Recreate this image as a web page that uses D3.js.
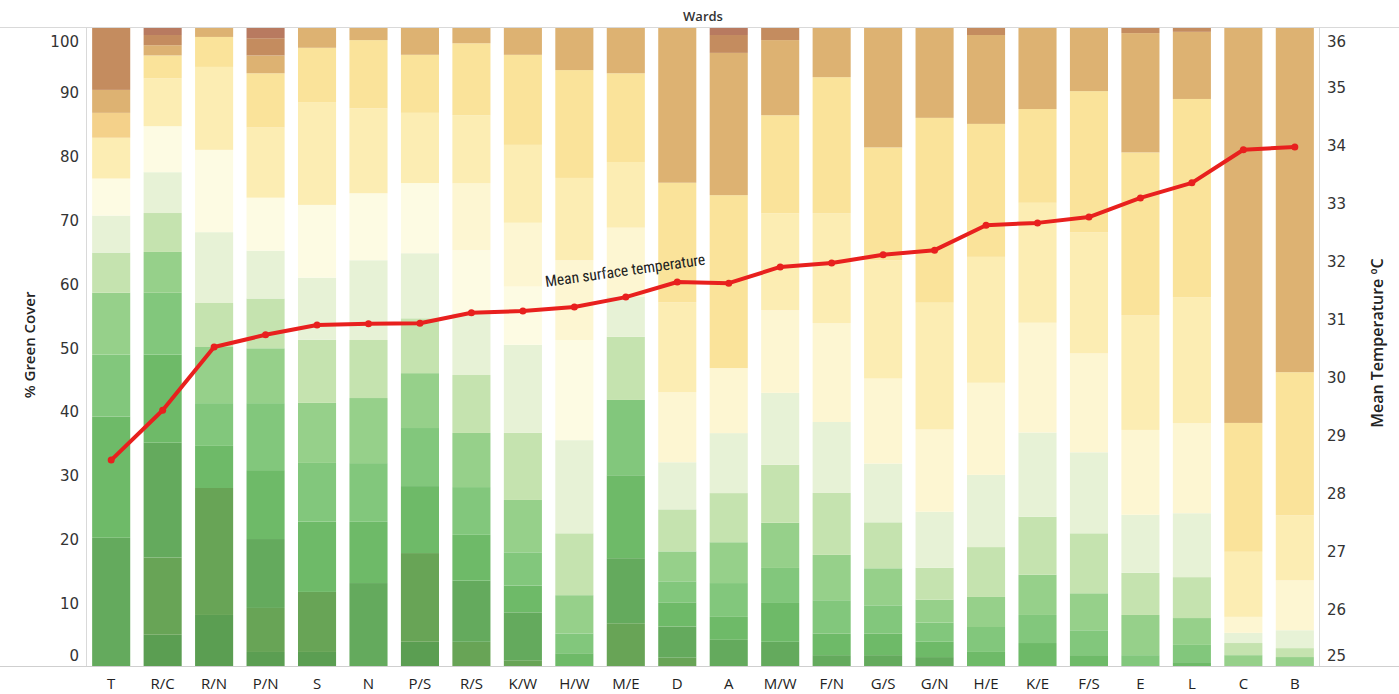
<!DOCTYPE html>
<html>
<head>
<meta charset="utf-8">
<script src="https://cdn.jsdelivr.net/npm/d3@7"></script>
<style>
  html, body { margin: 0; padding: 0; background: #fff; }
  svg { display: block; }
</style>
</head>
<body>
<svg id="chart" width="1399" height="694"></svg>
<script>
// ---------------- DATA ----------------
const wards = ["T","R/C","R/N","P/N","S","N","P/S","R/S","K/W","H/W","M/E","D","A","M/W","F/N","G/S","G/N","H/E","K/E","F/S","E","L","C","B"];

// mean surface temperature (°C) per ward
const meanTemp = [28.55, 29.41, 30.50, 30.71, 30.88, 30.90, 30.91, 31.09, 31.12, 31.19, 31.36, 31.62, 31.60, 31.88, 31.95, 32.09, 32.17, 32.60, 32.64, 32.74, 33.07, 33.33, 33.90, 33.95];

// share (%) of each ward's area in each cover / temperature class, coolest (bottom) to hottest (top)
const class00 = [0, 4.9, 8.0, 2.2, 2.2, 0, 3.8, 0, 0, 0, 0, 0, 0, 0, 0, 0, 0, 0, 0, 0, 0, 0, 0, 0];
const class01 = [0, 12.1, 19.9, 6.9, 9.4, 0, 13.9, 3.8, 0.9, 0, 6.7, 1.3, 0, 0, 0, 0, 0, 0, 0, 0, 0, 0, 0, 0];
const class02 = [20.1, 18.0, 0, 10.8, 0, 13.0, 0, 9.6, 7.5, 0, 10.2, 4.9, 4.1, 3.8, 1.7, 1.7, 1.4, 0, 0, 0, 0, 0, 0, 0];
const class03 = [19.0, 13.8, 6.6, 10.8, 11.0, 9.6, 10.5, 7.2, 4.2, 2.0, 13.0, 3.8, 3.6, 6.1, 3.4, 3.4, 2.4, 2.2, 3.6, 1.7, 0, 0.6, 0, 0];
const class04 = [9.7, 9.7, 6.7, 10.5, 9.2, 9.2, 9.1, 7.5, 5.2, 3.1, 11.8, 3.3, 5.3, 5.5, 5.2, 4.4, 3.0, 3.9, 4.4, 3.9, 1.7, 2.7, 0, 0];
const class05 = [9.7, 6.4, 8.8, 8.6, 9.4, 10.2, 8.6, 8.5, 8.2, 6.0, 0, 4.7, 6.4, 7.1, 7.1, 5.8, 3.6, 4.7, 6.3, 5.8, 6.3, 4.2, 1.7, 1.4];
const class06 = [6.3, 6.1, 6.9, 7.8, 9.9, 9.1, 8.6, 9.1, 10.5, 9.7, 9.9, 6.6, 7.7, 9.1, 9.7, 7.2, 5.0, 7.8, 9.1, 9.4, 6.6, 6.4, 1.9, 1.4];
const class07 = [5.8, 6.4, 11.1, 7.5, 9.7, 12.5, 10.2, 9.7, 13.8, 14.6, 6.3, 7.4, 9.4, 11.3, 11.1, 9.2, 8.8, 11.3, 13.2, 12.7, 9.1, 10.0, 1.6, 2.8];
const class08 = [5.8, 7.2, 12.9, 8.3, 11.4, 10.5, 11.0, 9.9, 9.1, 15.7, 0, 0, 0, 0, 0, 0, 0, 0, 0, 0, 0, 0, 0, 0];
const class09 = [0, 0, 0, 0, 0, 0, 0, 10.5, 10.0, 12.5, 10.8, 11.0, 10.2, 13.0, 15.5, 13.3, 12.9, 14.4, 17.2, 15.5, 13.3, 14.1, 2.5, 7.8];
const class10 = [6.4, 7.5, 13.0, 11.0, 16.1, 13.3, 11.0, 10.7, 12.2, 12.9, 10.3, 14.1, 0, 15.2, 17.2, 18.5, 19.9, 19.7, 18.8, 19.0, 18.0, 19.7, 10.2, 10.2];
const class11 = [0, 3.6, 4.7, 8.5, 8.5, 10.7, 9.1, 11.3, 14.1, 16.9, 13.9, 18.8, 27.1, 15.4, 21.3, 17.7, 29.0, 20.8, 14.7, 22.1, 25.5, 31.0, 20.2, 22.4];
const class12 = [3.9, 0, 0, 0, 0, 0, 0, 0, 0, 0, 0, 0, 0, 0, 0, 0, 0, 0, 0, 0, 0, 0, 0, 0];
const class13 = [3.6, 1.6, 1.4, 2.8, 3.1, 1.9, 4.2, 2.4, 4.2, 6.6, 7.1, 24.3, 22.3, 11.8, 7.7, 18.7, 14.1, 13.9, 12.7, 9.9, 18.7, 10.5, 61.9, 53.9];
const class14 = [9.7, 1.6, 0, 2.7, 0, 0, 0, 0, 0, 0, 0, 0, 2.8, 1.9, 0, 0, 0, 1.1, 0, 0, 0.8, 0.6, 0, 0];
const class15 = [0, 1.1, 0, 1.6, 0, 0, 0, 0, 0, 0, 0, 0, 1.1, 0, 0, 0, 0, 0, 0, 0, 0, 0, 0, 0];

const classSeries = [class00, class01, class02, class03, class04, class05, class06, class07,
                     class08, class09, class10, class11, class12, class13, class14, class15];
const classColors = ["#5b9e52", "#68a456", "#64aa5d", "#6eba68", "#82c77c", "#96d08a", "#c5e3af", "#e7f2d6",
                     "#fdfbe3", "#fdf6d2", "#fcedb3", "#fae39a", "#f4d18a", "#ddb272", "#c48c5f", "#b87a60"];

const pctTicks = [0, 10, 20, 30, 40, 50, 60, 70, 80, 90, 100];
const tempTicks = [25, 26, 27, 28, 29, 30, 31, 32, 33, 34, 35, 36];

// ---------------- LAYOUT ----------------
const svg = d3.select("#chart");
const W = 1399, H = 694;
const plot = { left: 87, right: 1319, top: 28, bottom: 666 };

const keys = classSeries.map((_, i) => "c" + i);
const rows = wards.map((w, j) => {
  const r = { ward: w };
  keys.forEach((k, i) => { r[k] = classSeries[i][j]; });
  return r;
});

const x = d3.scaleBand().domain(wards).range([plot.left, plot.right]).paddingInner(0.26).paddingOuter(0.1);
const yPct = d3.scaleLinear().domain([0, 1]).range([plot.bottom, plot.top]);
const yTemp = d3.scaleLinear().domain([25, 36]).range([plot.bottom, plot.top]);

const stack = d3.stack().keys(keys).offset(d3.stackOffsetExpand);
const stacked = stack(rows);

// bars
svg.append("g").selectAll("g").data(stacked).join("g")
  .attr("fill", (d, i) => classColors[i])
  .selectAll("rect").data(d => d).join("rect")
  .attr("x", d => x(d.data.ward))
  .attr("width", x.bandwidth())
  .attr("y", d => yPct(d[1]))
  .attr("height", d => Math.max(0, yPct(d[0]) - yPct(d[1])));

// frame lines
svg.append("line").attr("x1", 0).attr("x2", W).attr("y1", plot.top - 0.5).attr("y2", plot.top - 0.5).attr("stroke", "#d9d9d9");
svg.append("line").attr("x1", 0).attr("x2", W).attr("y1", plot.bottom + 0.5).attr("y2", plot.bottom + 0.5).attr("stroke", "#cfcfcf");
svg.append("line").attr("x1", plot.left - 0.5).attr("x2", plot.left - 0.5).attr("y1", plot.top).attr("y2", plot.bottom).attr("stroke", "#d9d9d9");
svg.append("line").attr("x1", plot.right + 0.5).attr("x2", plot.right + 0.5).attr("y1", plot.top).attr("y2", plot.bottom).attr("stroke", "#d9d9d9");

// left axis
const leftAxis = svg.append("g").attr("transform", `translate(${plot.left},0)`)
  .call(d3.axisLeft(yPct).tickValues(pctTicks.map(d => d / 100)).tickFormat(d => Math.round(d * 100)).tickSize(0).tickPadding(8));
leftAxis.select(".domain").remove();
leftAxis.selectAll("text").style("font-family", "'DejaVu Sans', sans-serif").style("font-size", "15px").attr("fill", "#333")
  .attr("dy", d => d === 1 ? "1.25em" : d === 0 ? "-0.4em" : "0.4em");

// right axis
const rightAxis = svg.append("g").attr("transform", `translate(${plot.right},0)`)
  .call(d3.axisRight(yTemp).tickValues(tempTicks).tickSize(0).tickPadding(8));
rightAxis.select(".domain").remove();
rightAxis.selectAll("text").style("font-family", "'DejaVu Sans', sans-serif").style("font-size", "15px").attr("fill", "#333")
  .attr("dy", d => d === 36 ? "1.25em" : d === 25 ? "-0.4em" : "0.4em");

// bottom axis (labels only)
const bottomAxis = svg.append("g").attr("transform", `translate(0,${plot.bottom})`)
  .call(d3.axisBottom(x).tickSize(0).tickPadding(12));
bottomAxis.select(".domain").remove();
bottomAxis.selectAll("text").style("font-family", "'Open Sans', sans-serif").style("font-size", "15px").attr("fill", "#222");

// axis titles
svg.append("text").attr("x", (plot.left + plot.right) / 2).attr("y", 21).attr("text-anchor", "middle")
  .style("font-family", "'Open Sans', sans-serif").style("font-size", "13px").style("font-weight", 600).attr("fill", "#333").text("Wards");
svg.append("text").attr("transform", "translate(35,345) rotate(-90)").attr("text-anchor", "middle")
  .style("font-family", "'Open Sans', sans-serif").style("font-size", "15px").style("font-weight", 600).attr("fill", "#222").text("% Green Cover");
svg.append("text").attr("transform", "translate(1383,343) rotate(-90)").attr("text-anchor", "middle")
  .style("font-family", "'Open Sans', sans-serif").style("font-size", "16px").style("font-weight", 600).attr("fill", "#222").text("Mean Temperature ºC");

// temperature line
const cx = w => x(w) + x.bandwidth() / 2;
const line = d3.line().x((d, i) => cx(wards[i])).y(d => yTemp(d));
svg.append("path").datum(meanTemp).attr("d", line).attr("fill", "none")
  .attr("stroke", "#e8201e").attr("stroke-width", 4).attr("stroke-linejoin", "round");
svg.append("g").selectAll("circle").data(meanTemp).join("circle")
  .attr("cx", (d, i) => cx(wards[i])).attr("cy", d => yTemp(d)).attr("r", 3.5).attr("fill", "#e8201e");

// line annotation
svg.append("text").attr("transform", "translate(546,287) rotate(-8)")
  .style("font-family", "'Liberation Sans Narrow', 'Roboto Condensed', 'Arial Narrow', sans-serif")
  .style("font-size", "15.5px").attr("fill", "#222").text("Mean surface temperature");
</script>
</body>
</html>
